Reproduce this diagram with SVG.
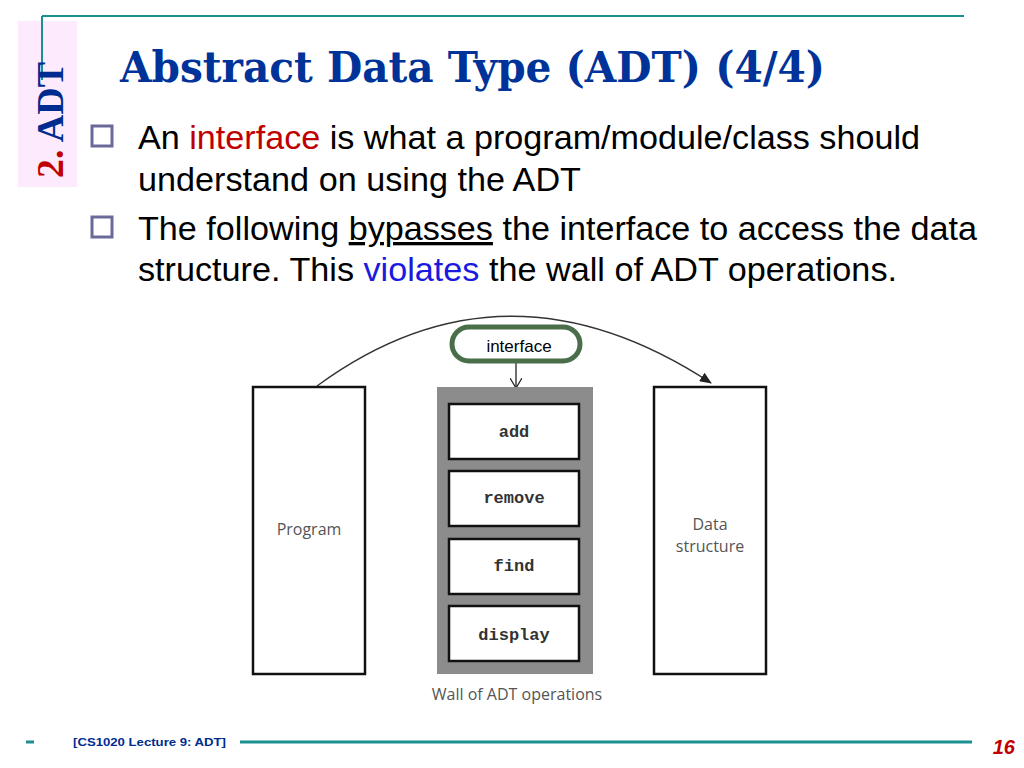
<svg xmlns="http://www.w3.org/2000/svg" width="1024" height="768" viewBox="0 0 1024 768">
<style>
.b{font-family:"Liberation Sans",Arial,sans-serif;font-size:33px;fill:#000}
.box{fill:#fff;stroke:#111;stroke-width:2.5}
.op{font-family:"Liberation Mono","Courier New",monospace;font-weight:bold;font-size:17px;fill:#333;text-anchor:middle}
.lbl{font-family:"Open Sans",sans-serif;font-size:16px;fill:#555;text-anchor:middle}
</style>
<defs>
<marker id="ah" markerWidth="12" markerHeight="10" refX="11" refY="5" orient="auto" markerUnits="userSpaceOnUse"><path d="M0,0 L12,5 L0,10 z" fill="#222"/></marker>
<marker id="oa" markerWidth="12" markerHeight="12" refX="10" refY="6" orient="auto" markerUnits="userSpaceOnUse"><path d="M0,0 L10,6 L0,12" fill="none" stroke="#222" stroke-width="1.2"/></marker>
</defs>
<rect width="1024" height="768" fill="#fff"/>
<rect x="18" y="21" width="59" height="166" fill="#fdeafd"/>
<line x1="42" y1="16" x2="964" y2="16" stroke="#1a9090" stroke-width="2"/>
<line x1="42" y1="16" x2="42" y2="80" stroke="#1a9090" stroke-width="2"/>
<text transform="translate(63,178) rotate(-90)" font-family="'Liberation Serif',serif" font-weight="bold" font-size="38" textLength="116" lengthAdjust="spacingAndGlyphs"><tspan fill="#c00000">2. </tspan><tspan fill="#002b8f">ADT</tspan></text>
<text x="120" y="82" font-family="'DejaVu Serif','Liberation Serif',serif" font-weight="bold" font-size="42" fill="#003399" textLength="705" lengthAdjust="spacingAndGlyphs">Abstract Data Type (ADT) (4/4)</text>
<g fill="#fff" stroke="#6a6a9a" stroke-width="3"><rect x="92" y="126" width="20" height="20"/><rect x="92" y="217" width="20" height="20"/></g>
<text class="b" x="138" y="149" textLength="782" lengthAdjust="spacingAndGlyphs">An <tspan fill="#c00000">interface</tspan> is what a program/module/class should</text>
<text class="b" x="138" y="191" textLength="443" lengthAdjust="spacingAndGlyphs">understand on using the ADT</text>
<text class="b" x="138" y="240" textLength="839" lengthAdjust="spacingAndGlyphs">The following <tspan text-decoration="underline">bypasses</tspan> the interface to access the data</text>
<text class="b" x="138" y="281" textLength="759" lengthAdjust="spacingAndGlyphs">structure. This <tspan fill="#1a1adf">violates</tspan> the wall of ADT operations.</text>
<g id="connectors">
<path d="M317,386 Q505,248 711,383" fill="none" stroke="#333" stroke-width="1.3" marker-end="url(#ah)"/>
<line x1="516" y1="360" x2="516" y2="388" stroke="#222" stroke-width="1.3" marker-end="url(#oa)"/>
</g>
<g id="program"><rect class="box" x="253" y="387" width="112" height="287"/><text class="lbl" x="309" y="535">Program</text></g>
<g id="wall"><rect x="437" y="387" width="156" height="287" fill="#8c8c8c"/>
<rect class="box" x="449" y="404" width="130" height="55"/><text class="op" x="514" y="437">add</text>
<rect class="box" x="449" y="471" width="130" height="55"/><text class="op" x="514" y="503">remove</text>
<rect class="box" x="449" y="539" width="130" height="55"/><text class="op" x="514" y="571">find</text>
<rect class="box" x="449" y="606" width="130" height="55"/><text class="op" x="514" y="640">display</text>
<text class="lbl" x="517" y="700">Wall of ADT operations</text></g>
<g id="datastructure"><rect class="box" x="654" y="387" width="112" height="287"/><text class="lbl" x="710" y="530">Data</text><text class="lbl" x="710" y="552">structure</text></g>
<g id="interface"><rect x="452" y="327" width="128" height="34" rx="17" fill="#fff" stroke="#4a6e4a" stroke-width="5"/><text x="519" y="352" font-family="'Liberation Sans',sans-serif" font-size="17" text-anchor="middle">interface</text></g>
<line x1="26" y1="742" x2="34" y2="742" stroke="#1a9090" stroke-width="3"/>
<text x="73" y="746" font-family="'Liberation Sans',sans-serif" font-weight="bold" font-size="11" fill="#002b8f" textLength="153" lengthAdjust="spacingAndGlyphs">[CS1020 Lecture 9: ADT]</text>
<line x1="240" y1="742" x2="972" y2="742" stroke="#1a9090" stroke-width="3"/>
<text x="1015" y="754" text-anchor="end" font-family="'Liberation Sans',sans-serif" font-weight="bold" font-style="italic" font-size="20" fill="#c00000">16</text>
</svg>
